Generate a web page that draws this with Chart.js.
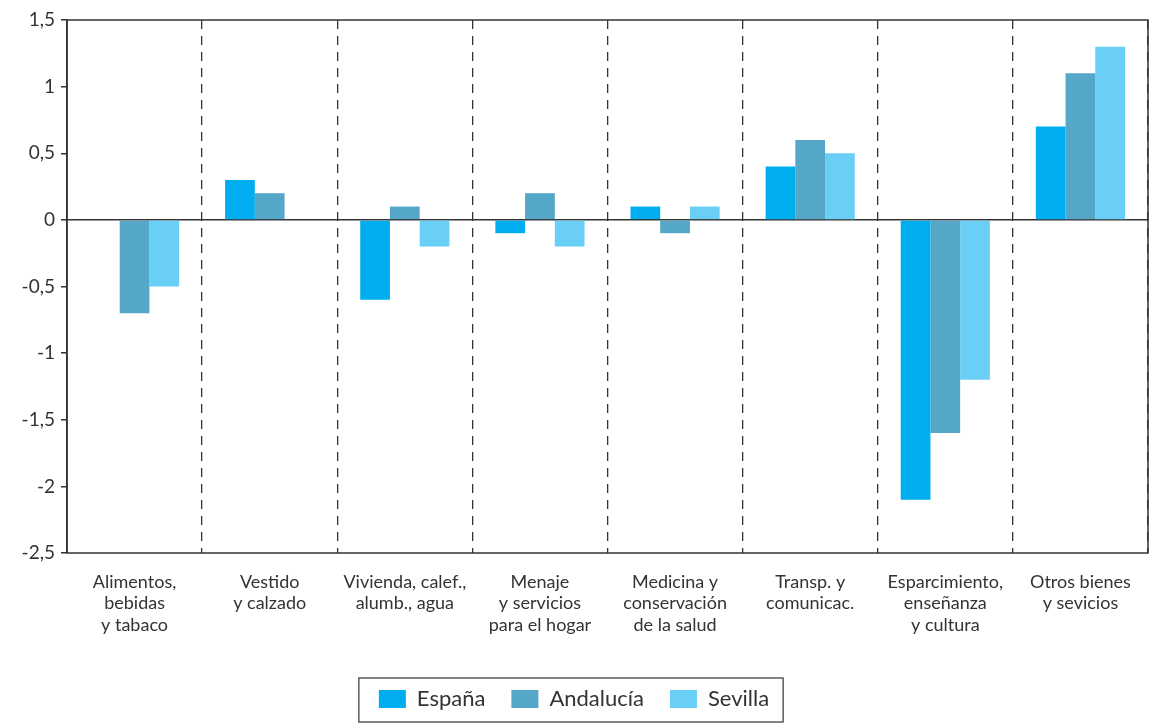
<!DOCTYPE html>
<html>
<head>
<meta charset="utf-8">
<script src="https://cdn.jsdelivr.net/npm/chart.js@4"></script>
<style>
  html, body { margin: 0; padding: 0; background: #fff; }
  #wrap { width: 1154px; height: 723px; }
</style>
</head>
<body>
<div id="wrap"><canvas id="grafico"></canvas></div>
<script>
// categorías y valores (variación, puntos)
const categorias = [
    ['Alimentos,', 'bebidas', 'y tabaco'],
    ['Vestido', 'y calzado'],
    ['Vivienda, calef.,', 'alumb., agua'],
    ['Menaje', 'y servicios', 'para el hogar'],
    ['Medicina y', 'conservación', 'de la salud'],
    ['Transp. y', 'comunicac.'],
    ['Esparcimiento,', 'enseñanza', 'y cultura'],
    ['Otros bienes', 'y sevicios']
];
const espana    = [0, 0.3, -0.6, -0.1, 0.1, 0.4, -2.1, 0.7];
const andalucia = [-0.7, 0.2, 0.1, 0.2, -0.1, 0.6, -1.6, 1.1];
const sevilla   = [-0.5, 0, -0.2, -0.2, 0.1, 0.5, -1.2, 1.3];
const ejeY = [-2.5, -2, -1.5, -1, -0.5, 0, 0.5, 1, 1.5];

const FUENTE = 'Lato, "DejaVu Sans", sans-serif';
const GRIS = '#333333';

// marco del área de gráfico y recuadro de la leyenda
const marco = {
    id: 'marco',
    afterDraw(chart) {
        const ctx = chart.ctx;
        const a = chart.chartArea;
        ctx.save();
        ctx.strokeStyle = GRIS;
        ctx.lineWidth = 1.5;
        ctx.setLineDash([]);
        ctx.strokeRect(a.left, a.top, a.right - a.left, a.bottom - a.top);

        const cajas = chart.legend.legendHitBoxes;
        if (cajas && cajas.length) {
            let x0 = Infinity, x1 = -Infinity, y0 = Infinity, y1 = -Infinity;
            cajas.forEach(b => {
                x0 = Math.min(x0, b.left); x1 = Math.max(x1, b.left + b.width);
                y0 = Math.min(y0, b.top); y1 = Math.max(y1, b.top + b.height);
            });
            ctx.lineWidth = 1.2;
            ctx.strokeRect(x0 - 20, y0 - 10, (x1 - x0) + 34, (y1 - y0) + 22);
        }
        ctx.restore();
    }
};

new Chart(document.getElementById('grafico'), {
    type: 'bar',
    data: {
        labels: categorias,
        datasets: [
            { label: 'España', data: espana, backgroundColor: '#00AEEF' },
            { label: 'Andalucía', data: andalucia, backgroundColor: '#55A7C8' },
            { label: 'Sevilla', data: sevilla, backgroundColor: '#6ACFF6' }
        ]
    },
    options: {
        responsive: true,
        maintainAspectRatio: false,
        animation: false,
        datasets: { bar: { categoryPercentage: 0.66, barPercentage: 1 } },
        layout: { padding: { top: 20, right: 6, left: 0, bottom: 3 } },
        plugins: {
            tooltip: { enabled: false },
            legend: {
                position: 'bottom',
                labels: {
                    font: { family: FUENTE, size: 22 },
                    color: GRIS,
                    boxWidth: 27,
                    boxHeight: 18,
                    padding: 26
                }
            }
        },
        scales: {
            x: {
                grid: {
                    offset: true,
                    color: GRIS,
                    lineWidth: 1.3,
                    drawTicks: false,
                    tickBorderDash: [9, 7]
                },
                border: { display: false, dash: [9, 7] },
                ticks: {
                    font: { family: FUENTE, size: 18 },
                    color: GRIS,
                    padding: 18,
                    maxRotation: 0,
                    autoSkip: false
                },
                afterFit(scale) { scale.height = 109; }
            },
            y: {
                min: -2.5,
                max: 1.5,
                afterBuildTicks(scale) { scale.ticks = ejeY.map(v => ({ value: v })); },
                grid: {
                    color: c => c.tick && c.tick.value === 0 ? GRIS : 'rgba(0,0,0,0)',
                    lineWidth: 1.5,
                    tickColor: GRIS,
                    tickLength: 6,
                    drawOnChartArea: true
                },
                border: { display: true, color: GRIS, width: 1.5 },
                ticks: {
                    font: { family: FUENTE, size: 19 },
                    color: GRIS,
                    padding: 6,
                    callback: v => String(v).replace('.', ',')
                },
                afterFit(scale) { scale.width = 67; }
            }
        }
    },
    plugins: [marco]
});
</script>
</body>
</html>
